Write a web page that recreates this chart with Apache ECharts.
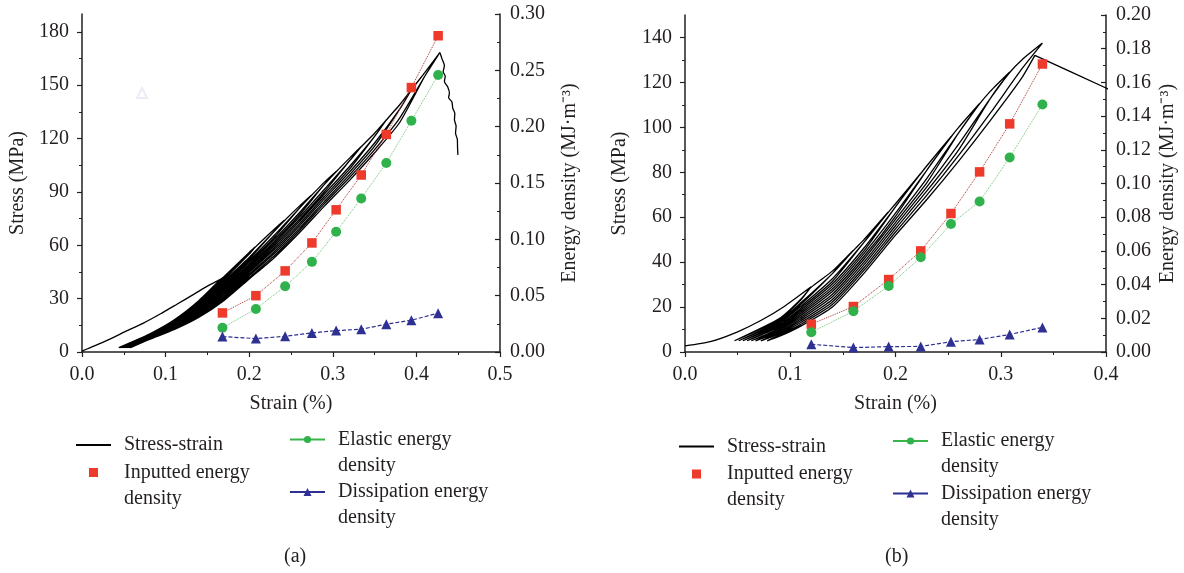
<!DOCTYPE html>
<html>
<head>
<meta charset="utf-8">
<title>Cyclic loading: stress-strain and energy density</title>
<script src="https://cdn.jsdelivr.net/npm/echarts@6/dist/echarts.min.js"></script>
<style>
  html, body { margin: 0; padding: 0; background: #fff; }
  #chart { width: 1184px; height: 573px; }
</style>
</head>
<body>
<div id="chart"></div>
<script>
// ---- panel (a) ----
// peak strain of each cycle (%)
const strainA = [0.168, 0.208, 0.243, 0.275, 0.304, 0.334, 0.364, 0.394, 0.426];
// energy densities (MJ/m3)
const inputA = [0.0347, 0.0500, 0.0720, 0.0968, 0.1262, 0.1571, 0.1931, 0.2347, 0.2807];
const elasticA = [0.0215, 0.0382, 0.0583, 0.0800, 0.1067, 0.1363, 0.1678, 0.2052, 0.2459];
const dissipA = [0.0137, 0.0119, 0.0139, 0.0169, 0.0190, 0.0202, 0.0247, 0.0282, 0.0345];
// stress-strain branches, [strain %, stress MPa]
const loopsA = [
  [[0, 0.5], [0.01, 2.5], [0.03, 6.5], [0.054, 12], [0.074, 16.4], [0.094, 21.5], [0.114, 27], [0.134, 32.5], [0.15, 37], [0.166, 41]],
  [[0.166, 41], [0.14, 29.0], [0.11, 18.0], [0.08, 10.0], [0.044, 2.5]],
  [[0.044, 2.5], [0.08, 9.8], [0.11, 17.7], [0.14, 28.7], [0.166, 40.8], [0.17, 42.5], [0.20, 56.0], [0.207, 59]],
  [[0.207, 59], [0.20, 55.1], [0.17, 41.7], [0.14, 27.9], [0.11, 17.4], [0.08, 9.6], [0.045, 2.5]],
  [[0.045, 2.5], [0.08, 9.5], [0.11, 17.0], [0.14, 27.3], [0.17, 40.8], [0.20, 55.0], [0.207, 58.8], [0.23, 69.0], [0.242, 74]],
  [[0.242, 74], [0.23, 67.9], [0.20, 53.2], [0.17, 40.0], [0.14, 26.8], [0.11, 16.7], [0.08, 9.3], [0.046, 2.5]],
  [[0.046, 2.5], [0.08, 9.1], [0.11, 16.4], [0.14, 26.2], [0.17, 39.1], [0.20, 52.3], [0.23, 67.9], [0.242, 73.8], [0.26, 82.0], [0.274, 88]],
  [[0.274, 88], [0.26, 80.8], [0.23, 65.6], [0.20, 51.3], [0.17, 38.3], [0.14, 25.6], [0.11, 16.1], [0.08, 8.9], [0.048, 2.5]],
  [[0.048, 2.5], [0.08, 8.8], [0.11, 15.7], [0.14, 25.1], [0.17, 37.4], [0.20, 50.4], [0.23, 64.4], [0.26, 80.8], [0.274, 87.8], [0.29, 95.5], [0.304, 101.5]],
  [[0.304, 101.5], [0.29, 94.2], [0.26, 78.3], [0.23, 63.3], [0.20, 49.4], [0.17, 36.6], [0.14, 24.5], [0.11, 15.4], [0.08, 8.6], [0.050, 2.5]],
  [[0.050, 2.5], [0.08, 8.4], [0.11, 15.1], [0.14, 24.0], [0.17, 35.8], [0.20, 48.5], [0.23, 62.1], [0.26, 77.0], [0.29, 94.2], [0.304, 101.3], [0.32, 109.0], [0.334, 115.5]],
  [[0.334, 115.5], [0.32, 107.4], [0.29, 91.5], [0.26, 75.8], [0.23, 61.0], [0.20, 47.6], [0.17, 34.9], [0.14, 23.4], [0.11, 14.8], [0.08, 8.2], [0.052, 2.5]],
  [[0.052, 2.5], [0.08, 8.1], [0.11, 14.4], [0.14, 22.9], [0.17, 34.1], [0.20, 46.6], [0.23, 59.9], [0.26, 74.5], [0.29, 90.1], [0.32, 107.5], [0.334, 115.3], [0.35, 123.0], [0.364, 130.5]],
  [[0.364, 130.5], [0.35, 121.2], [0.32, 104.3], [0.29, 88.8], [0.26, 73.3], [0.23, 58.7], [0.20, 45.7], [0.17, 33.2], [0.14, 22.3], [0.11, 14.1], [0.08, 7.9], [0.054, 2.5]],
  [[0.054, 2.5], [0.08, 7.7], [0.11, 13.8], [0.14, 21.7], [0.17, 32.4], [0.20, 44.8], [0.23, 57.6], [0.26, 72.0], [0.29, 87.4], [0.32, 102.8], [0.35, 121.2], [0.364, 130.3], [0.38, 139.0], [0.394, 147.5]],
  [[0.394, 147.5], [0.38, 136.5], [0.35, 117.5], [0.32, 101.2], [0.29, 86.1], [0.26, 70.8], [0.23, 56.4], [0.20, 43.8], [0.17, 31.5], [0.14, 21.2], [0.11, 13.5], [0.08, 7.5], [0.056, 2.5]],
  [[0.056, 2.5], [0.08, 7.4], [0.11, 13.1], [0.14, 20.6], [0.17, 30.7], [0.20, 42.9], [0.23, 55.3], [0.26, 69.5], [0.29, 84.7], [0.32, 99.6], [0.35, 115.7], [0.38, 136.5], [0.394, 147.3], [0.41, 157], [0.426, 167]],
  [[0.426, 167], [0.41, 155], [0.38, 131.5], [0.35, 113.8], [0.32, 98.1], [0.29, 83.4], [0.26, 68.3], [0.23, 54.1], [0.20, 41.9], [0.17, 29.8], [0.14, 20.1], [0.11, 12.8], [0.08, 7.2], [0.058, 2.5]],
  [[0.058, 2.5], [0.08, 7.0], [0.11, 12.5], [0.14, 19.5], [0.17, 29.0], [0.20, 41.0], [0.23, 53.0], [0.26, 67.0], [0.29, 82.0], [0.32, 96.5], [0.35, 112.0], [0.38, 129.0], [0.41, 155], [0.426, 166.8], [0.428, 168.4]],
  // post-peak failure
  [[0.428, 168.4], [0.4305, 165], [0.4335, 161], [0.432, 157.5], [0.4345, 155], [0.4335, 152], [0.4375, 149], [0.4395, 145.5], [0.4385, 143], [0.4425, 140.5], [0.4435, 137], [0.446, 134], [0.4455, 130.5], [0.4475, 127], [0.4468, 123], [0.449, 119.5], [0.4492, 115], [0.4497, 110.8]]
];
// faint hollow triangle left in the figure near the top-left of (a)
const ghostA = [[0.0718, 145.6]];
const stressTicksA = [0, 30, 60, 90, 120, 150, 180];
const energyTicksA = [0, 0.05, 0.10, 0.15, 0.20, 0.25, 0.30];
const strainTicksA = [0, 0.1, 0.2, 0.3, 0.4, 0.5];

// ---- panel (b) ----
const strainB = [0.120, 0.160, 0.1935, 0.224, 0.2527, 0.2799, 0.3085, 0.3396];
const inputB = [0.0165, 0.0270, 0.0430, 0.0600, 0.0822, 0.1069, 0.1354, 0.1709];
const elasticB = [0.0117, 0.0242, 0.0392, 0.0562, 0.0760, 0.0893, 0.1154, 0.1469];
const dissipB = [0.0046, 0.0026, 0.0032, 0.0033, 0.0061, 0.0074, 0.0104, 0.0146];
const loopsB = [
  [[0, 2.7], [0.024, 4.6], [0.05, 9], [0.072, 14], [0.095, 20.5], [0.1198, 29]],
  [[0.1198, 29], [0.11, 23.5], [0.09, 15.0], [0.047, 5]],
  [[0.047, 5], [0.09, 14.5], [0.11, 23.1], [0.1198, 28.8], [0.14, 36.0], [0.1597, 45.2]],
  [[0.1597, 45.2], [0.14, 34.9], [0.11, 21.9], [0.09, 13.9], [0.051, 5]],
  [[0.051, 5], [0.09, 13.4], [0.11, 21.1], [0.14, 34.9], [0.1597, 45.0], [0.17, 50.0], [0.1929, 62.2]],
  [[0.1929, 62.2], [0.17, 48.8], [0.14, 32.6], [0.11, 20.3], [0.09, 12.9], [0.055, 5]],
  [[0.055, 5], [0.09, 12.3], [0.11, 19.5], [0.14, 31.4], [0.17, 48.8], [0.1929, 62.0], [0.20, 66.0], [0.2233, 79.2]],
  [[0.2233, 79.2], [0.20, 64.6], [0.17, 46.3], [0.14, 30.3], [0.11, 18.7], [0.09, 11.8], [0.059, 5]],
  [[0.059, 5], [0.09, 11.3], [0.11, 17.9], [0.14, 29.1], [0.17, 45.0], [0.20, 64.6], [0.2233, 79.0], [0.23, 83.0], [0.2527, 95.9]],
  [[0.2527, 95.9], [0.23, 81.1], [0.20, 61.8], [0.17, 43.8], [0.14, 28.0], [0.11, 17.1], [0.09, 10.7], [0.063, 5]],
  [[0.063, 5], [0.09, 10.2], [0.11, 16.3], [0.14, 26.9], [0.17, 42.5], [0.20, 60.4], [0.23, 81.1], [0.2527, 95.7], [0.26, 100.0], [0.2799, 110.6]],
  [[0.2799, 110.6], [0.26, 97.5], [0.23, 77.4], [0.20, 59.0], [0.17, 41.3], [0.14, 25.7], [0.11, 15.5], [0.09, 9.7], [0.067, 5]],
  [[0.067, 5], [0.09, 9.1], [0.11, 14.7], [0.14, 24.6], [0.17, 40.0], [0.20, 57.6], [0.23, 75.5], [0.26, 97.5], [0.2799, 110.4], [0.29, 116.0], [0.3085, 124.6]],
  [[0.3085, 124.6], [0.29, 112.8], [0.26, 92.5], [0.23, 73.6], [0.20, 56.2], [0.17, 38.8], [0.14, 23.4], [0.11, 13.9], [0.09, 8.6], [0.072, 5]],
  [[0.072, 5], [0.09, 8.1], [0.11, 13.1], [0.14, 22.3], [0.17, 37.5], [0.20, 54.8], [0.23, 71.8], [0.26, 90.0], [0.29, 112.8], [0.3085, 124.4], [0.32, 130], [0.3396, 137.5]],
  [[0.3396, 137.5], [0.32, 126], [0.29, 106.3], [0.26, 87.5], [0.23, 69.9], [0.20, 53.4], [0.17, 36.3], [0.14, 21.1], [0.11, 12.3], [0.09, 7.5], [0.078, 5]],
  [[0.078, 5], [0.09, 7.0], [0.11, 11.5], [0.14, 20.0], [0.17, 35.0], [0.20, 52.0], [0.23, 68.0], [0.26, 85.0], [0.29, 103.0], [0.32, 122], [0.3324, 132]],
  // post-peak, runs out past the axis
  [[0.3324, 132], [0.40, 117.5], [0.42, 113.2]]
];
const stressTicksB = [0, 20, 40, 60, 80, 100, 120, 140];
const energyTicksB = [0, 0.02, 0.04, 0.06, 0.08, 0.10, 0.12, 0.14, 0.16, 0.18, 0.20];
const strainTicksB = [0, 0.1, 0.2, 0.3, 0.4];

const FONT = '"Liberation Serif", "Times New Roman", serif';
const INK = '#231f20';
const RED = '#ee3a2b', GREEN = '#2fb24b', BLUE = '#2e3192';

const chart = echarts.init(document.getElementById('chart'), null, { renderer: 'canvas' });

function txt(extra) {
  return Object.assign({ fontFamily: FONT, fontSize: 20, color: INK }, extra || {});
}

function xAxis(grid, max, ticks) {
  return {
    type: 'value', gridIndex: grid, min: 0, max: max, interval: 0.1,
    name: 'Strain (%)', nameLocation: 'middle', nameGap: 42, nameTextStyle: txt(),
    axisLine: { onZero: false, lineStyle: { color: INK, width: 1.5 } },
    axisTick: { length: 5, customValues: ticks, lineStyle: { color: INK, width: 1.2 } },
    minorTick: { show: true, splitNumber: 2, length: 3, lineStyle: { color: INK, width: 1 } },
    axisLabel: txt({ margin: 13, customValues: ticks, formatter: v => v.toFixed(1) }),
    splitLine: { show: false }
  };
}

function stressAxis(grid, max, interval, ticks, gap) {
  return {
    type: 'value', gridIndex: grid, position: 'left', min: 0, max: max, interval: interval,
    name: 'Stress (MPa)', nameLocation: 'middle', nameRotate: 90, nameGap: gap, nameTextStyle: txt(),
    axisLine: { onZero: false, lineStyle: { color: INK, width: 1.5 } },
    axisTick: { length: 5, customValues: ticks, lineStyle: { color: INK, width: 1.2 } },
    minorTick: { show: true, splitNumber: 2, length: 3, lineStyle: { color: INK, width: 1 } },
    axisLabel: txt({ margin: 13, customValues: ticks, formatter: v => String(v) }),
    splitLine: { show: false }
  };
}

function energyAxis(grid, max, interval, ticks, gap) {
  return {
    type: 'value', gridIndex: grid, position: 'right', min: 0, max: max, interval: interval,
    name: 'Energy density (MJ·m⁻³)', nameLocation: 'middle', nameRotate: 90, nameGap: gap, nameTextStyle: txt(),
    axisLine: { onZero: false, lineStyle: { color: INK, width: 1.5 } },
    axisTick: { inside: true, length: 5, customValues: ticks, lineStyle: { color: INK, width: 1.2 } },
    minorTick: { show: true, splitNumber: 2, length: 3, lineStyle: { color: INK, width: 1 } },
    axisLabel: txt({ margin: 10, customValues: ticks, formatter: v => v.toFixed(2) }),
    splitLine: { show: false }
  };
}

// all branches in one series, broken by empty points so each branch is drawn on its own
function stressSeries(curves, grid) {
  const data = [];
  curves.forEach((c, i) => {
    if (i) data.push([null, null]);
    c.forEach(p => data.push(p));
  });
  return {
    name: 'Stress-strain', type: 'line', xAxisIndex: grid, yAxisIndex: grid * 2,
    data: data, smooth: 0.2, symbol: 'none', connectNulls: false,
    lineStyle: { color: '#000', width: 1.3 }, z: 2, silent: true
  };
}

function energySeries(name, xs, ys, grid, look) {
  return {
    name: name, type: 'line', xAxisIndex: grid, yAxisIndex: grid * 2 + 1,
    data: xs.map((x, i) => [x, ys[i]]),
    symbol: look.symbol, symbolSize: look.size, showAllSymbol: true,
    itemStyle: { color: look.color },
    lineStyle: look.line, z: 5, silent: true
  };
}

const looks = {
  input: { symbol: 'rect', size: 9.5, color: RED, line: { color: '#a8332f', width: 1, type: 'dotted' } },
  elastic: { symbol: 'circle', size: 10, color: GREEN, line: { color: '#6cc476', width: 1, type: 'dotted' } },
  dissip: { symbol: 'triangle', size: 10, color: BLUE, line: { color: BLUE, width: 1.2, type: [4, 2] } }
};

// two-line names get an empty first line so the icon sits beside the first written line
function legendName(n) {
  return n === 'Stress-strain' ? n : '\n' + n.replace(' density', '\ndensity');
}

function legendItem(item, left, top, opts) {
  return Object.assign({
    left: left, top: top, padding: 0, selectedMode: false,
    data: [item], itemWidth: 35, itemHeight: 9,
    formatter: legendName,
    textStyle: txt({ lineHeight: 26, padding: [0, 0, 0, 8] })
  }, opts || {});
}

function legendsFor(dx, dy) {
  return [
    legendItem({ name: 'Stress-strain', icon: 'rect', itemStyle: { color: '#000' } }, 76 + dx, 432 + dy,
      { itemHeight: 2 }),
    legendItem({ name: 'Inputted energy density', icon: 'rect', itemStyle: { color: RED, borderWidth: 0 } }, 89 + dx, 433.5 + dy,
      { itemWidth: 9, itemHeight: 9, textStyle: txt({ lineHeight: 26, padding: [0, 0, 0, 21] }) }),
    legendItem({ name: 'Elastic energy density', lineStyle: { type: 'solid', width: 2, color: '#3ab54a' } }, 289 + dx, 400.5 + dy,
      { itemHeight: 9 }),
    legendItem({ name: 'Dissipation energy density', lineStyle: { type: 'solid', width: 2, color: BLUE } }, 289 + dx, 453 + dy,
      { itemHeight: 10 })
  ];
}

const option = {
  animation: false,
  backgroundColor: '#fff',
  title: [
    { text: '(a)', left: 284, top: 544, padding: 0, textStyle: txt({ fontWeight: 'normal', lineHeight: 26 }) },
    { text: '(b)', left: 885, top: 544, padding: 0, textStyle: txt({ fontWeight: 'normal', lineHeight: 26 }) }
  ],
  legend: legendsFor(0, 0).concat(legendsFor(603, 1.5)),
  grid: [
    { left: 82, top: 14, width: 418, height: 338 },
    { left: 685, top: 15, width: 421, height: 337 }
  ],
  xAxis: [xAxis(0, 0.5, strainTicksA), xAxis(1, 0.4, strainTicksB)],
  yAxis: [
    stressAxis(0, 190, 30, stressTicksA, 54),
    energyAxis(0, 0.30, 0.05, energyTicksA, 60),
    stressAxis(1, 150, 20, stressTicksB, 55),
    energyAxis(1, 0.20, 0.02, energyTicksB, 52)
  ],
  series: [
    stressSeries(loopsA, 0),
    energySeries('Inputted energy density', strainA, inputA, 0, looks.input),
    energySeries('Elastic energy density', strainA, elasticA, 0, looks.elastic),
    energySeries('Dissipation energy density', strainA, dissipA, 0, looks.dissip),
    {
      name: 'ghost', type: 'scatter', xAxisIndex: 0, yAxisIndex: 0, data: ghostA,
      symbol: 'emptyTriangle', symbolSize: 10, itemStyle: { color: '#e6e6f4', borderWidth: 0.8 }, silent: true, z: 1
    },
    stressSeries(loopsB, 1),
    energySeries('Inputted energy density', strainB, inputB, 1, looks.input),
    energySeries('Elastic energy density', strainB, elasticB, 1, looks.elastic),
    energySeries('Dissipation energy density', strainB, dissipB, 1, looks.dissip)
  ]
};

chart.setOption(option);
</script>
</body>
</html>
